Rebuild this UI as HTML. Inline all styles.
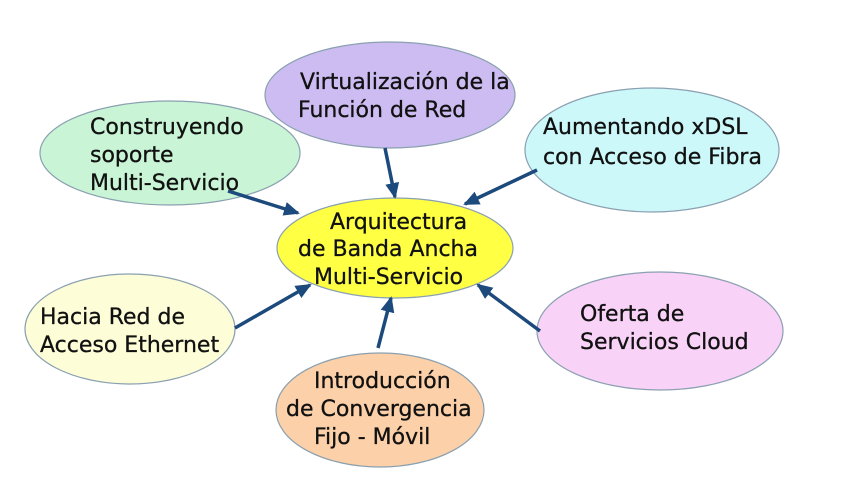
<!DOCTYPE html>
<html><head><meta charset="utf-8"><style>
html,body{margin:0;padding:0;background:#fff;}
svg{display:block;}
text{font-family:"DejaVu Sans","Liberation Sans",sans-serif;font-size:22px;fill:#111;stroke:#111;stroke-width:0.3;}
</style></head><body>
<svg width="864" height="501" viewBox="0 0 864 501" xmlns="http://www.w3.org/2000/svg">
<defs>
<marker id="b" markerWidth="16" markerHeight="14" refX="14" refY="7" orient="auto" markerUnits="userSpaceOnUse">
<path d="M0,0 L16,7 L0,14 Z" fill="#1d4a7c"/>
</marker>
</defs>
<g stroke="#8aa0b0" stroke-width="1.2">
<ellipse cx="390" cy="95" rx="125" ry="53" fill="#cdbcf2"/>
<ellipse cx="170" cy="153" rx="130" ry="52" fill="#c9f5d6"/>
<ellipse cx="652" cy="150" rx="127" ry="62" fill="#cdf8fa"/>
<ellipse cx="130" cy="329" rx="105" ry="55" fill="#fdfdd8"/>
<ellipse cx="660" cy="331" rx="123" ry="59" fill="#f9d2f8"/>
<ellipse cx="380" cy="410" rx="104" ry="57" fill="#fcd0a8"/>
<ellipse cx="395" cy="248" rx="118" ry="50" fill="#ffff44"/>
</g>
<g stroke="#1d4a7c" stroke-width="3.5" marker-end="url(#b)">
<line x1="385" y1="148" x2="395" y2="197"/>
<line x1="228" y1="191" x2="298" y2="213"/>
<line x1="537" y1="170" x2="465" y2="204"/>
<line x1="235" y1="328" x2="310" y2="285"/>
<line x1="540" y1="331" x2="478" y2="285"/>
<line x1="378" y1="348" x2="391" y2="298"/>
</g>
<text x="300" y="89">Virtualización de la</text>
<text x="298" y="117">Función de Red</text>
<text x="90" y="134">Construyendo</text>
<text x="90" y="162">soporte</text>
<text x="90" y="190">Multi-Servicio</text>
<text x="543" y="134">Aumentando xDSL</text>
<text x="543" y="164">con Acceso de Fibra</text>
<text x="330" y="229">Arquitectura</text>
<text x="298" y="256">de Banda Ancha</text>
<text x="314" y="284">Multi-Servicio</text>
<text x="40" y="324">Hacia Red de</text>
<text x="40" y="352">Acceso Ethernet</text>
<text x="580" y="321">Oferta de</text>
<text x="580" y="349">Servicios Cloud</text>
<text x="314" y="388">Introducción</text>
<text x="286" y="416">de Convergencia</text>
<text x="314" y="444">Fijo - Móvil</text>
</svg>
</body></html>
